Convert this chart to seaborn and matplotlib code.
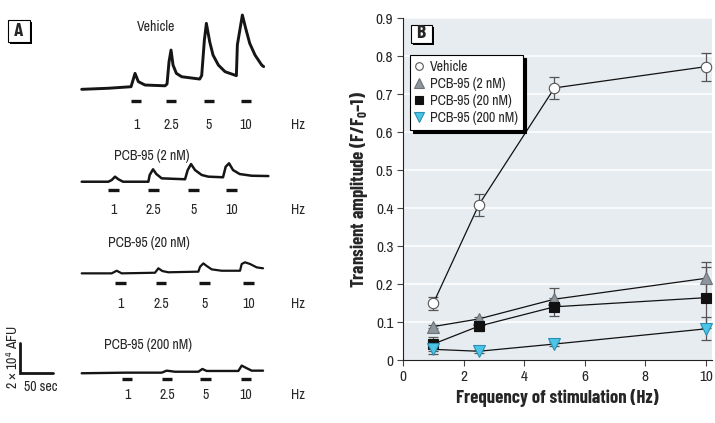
import numpy as np
import pandas as pd
import matplotlib.pyplot as plt
import seaborn as sns
from matplotlib import font_manager
from matplotlib.lines import Line2D
from matplotlib.patches import Rectangle

# ---- Panel B data ----
freq = [1, 2.5, 5, 10]
series_names = ['Vehicle', 'PCB-95 (2 nM)', 'PCB-95 (20 nM)', 'PCB-95 (200 nM)']
vehicle = [0.149, 0.408, 0.716, 0.772]
vehicle_err = [0.018, 0.030, 0.029, 0.037]
pcb_2 = [0.088, 0.108, 0.160, 0.215]
pcb_2_err = [0.004, 0.005, 0.030, 0.044]
pcb_20 = [0.042, 0.089, 0.140, 0.164]
pcb_20_err = [0.019, 0.012, 0.024, 0.080]
pcb_200 = [0.028, 0.023, 0.042, 0.082]
pcb_200_err = [0.013, 0.004, 0.005, 0.030]
y_ticks = [0, 0.1, 0.2, 0.3, 0.4, 0.5, 0.6, 0.7, 0.8, 0.9]
y_labels = ['0', '0.1', '0.2', '0.3', '0.4', '0.5', '0.6', '0.7', '0.8', '0.9']
x_ticks = [0, 2, 4, 6, 8, 10]

# ---- Panel A traces (time in s, amplitude in 1e4 AFU above baseline) ----
veh_t = [0, 40, 74, 77, 80, 85, 95, 125, 128, 131, 134, 137, 142, 150, 177, 180, 184, 187,
         192, 197, 205, 215, 232, 233.5, 241, 246, 252, 260, 270, 273]
veh_a = [0.0, 0.07, 0.17, 0.6, 1.04, 0.50, 0.28, 0.23, 0.35, 1.8, 2.56, 1.58, 1.04, 0.82, 0.67,
         0.9, 3.2, 4.30, 3.10, 2.23, 1.58, 1.15, 0.89, 2.9, 4.84, 3.97, 3.0, 2.23, 1.58, 1.48]
nm2_t = [0, 40, 45, 50, 55, 62, 100, 102, 107, 112, 120, 155, 159, 164, 170, 180, 190, 212,
         216, 221, 227, 237, 255, 280]
nm2_a = [0, 0, 0.11, 0.33, 0.16, 0.0, 0.0, 0.44, 0.81, 0.50, 0.22, 0.16, 0.76, 1.15, 0.76,
         0.44, 0.33, 0.29, 0.98, 1.20, 0.76, 0.50, 0.39, 0.37]
nm20_t = [0, 45, 52.5, 60, 110, 115, 121, 130, 175, 177.5, 182.5, 187.5, 195, 210, 237.5,
          240, 245, 252.5, 262.5, 272]
nm20_a = [0, 0, 0.17, 0, 0.04, 0.33, 0.15, 0.07, 0.11, 0.43, 0.65, 0.48, 0.26, 0.17, 0.17,
          0.61, 0.72, 0.61, 0.39, 0.33]
nm200_t = [0, 65, 120, 127.5, 140, 175, 181, 187.5, 235, 240, 247.5, 255, 272]
nm200_a = [0, 0.04, 0.04, 0.17, 0.1, 0.1, 0.28, 0.15, 0.15, 0.5, 0.33, 0.17, 0.17]
stim_hz = ['1', '2.5', '5', '10']
veh_stim = [73.5, 126, 183, 238.5]
nm2_stim = [40, 100, 160, 216.5]
nm20_stim = [50, 111, 176, 242.5]
nm200_stim = [60, 120, 178, 238.5]

names = {f.name for f in font_manager.fontManager.ttflist}
fam = 'Archivo Narrow' if 'Archivo Narrow' in names else 'DejaVu Sans'
bold_fam = 'Barlow Condensed' if 'Barlow Condensed' in names else 'DejaVu Sans'
sns.set_style('ticks')
plt.rcParams['font.family'] = [fam, 'DejaVu Sans']
plt.rcParams['mathtext.fontset'] = 'custom'
plt.rcParams['mathtext.rm'] = fam
plt.rcParams['mathtext.bf'] = bold_fam + ':bold'

fig = plt.figure(figsize=(7.15, 4.23), dpi=100)
W, H = 715, 423


def label_box(x0, y0, w, h, letter):
    # letter box with drop shadow, pixel coords from top-left
    fig.patches.append(Rectangle(((x0 + 2.5) / W, 1 - (y0 + h + 2.5) / H), w / W, h / H,
                                 transform=fig.transFigure, facecolor='black', edgecolor='none'))
    fig.patches.append(Rectangle((x0 / W, 1 - (y0 + h) / H), w / W, h / H,
                                 transform=fig.transFigure, facecolor='white',
                                 edgecolor='black', lw=0.8))
    fig.text((x0 + w / 2) / W, 1 - (y0 + h / 2) / H, letter, ha='center', va='center',
             fontsize=14, fontweight='bold', family=[bold_fam, 'DejaVu Sans'])


# ---------------- Panel A ----------------
axA = fig.add_axes([0, 0, 360 / W, 1])
axA.axis('off')
axA.set_xlim(-122.55, 417.45)
axA.set_ylim(0, 27.56)

rows = [
    ('Vehicle', veh_t, veh_a, veh_stim, 21.74, 2.1, 111, 25.82, 0.75, 1.55),
    ('PCB-95 (2 nM)', nm2_t, nm2_a, nm2_stim, 15.72, 1.8, 105, 17.39, 0.54, 1.3),
    ('PCB-95 (20 nM)', nm20_t, nm20_a, nm20_stim, 9.75, 1.6, 101, 11.71, 0.61, 1.41),
    ('PCB-95 (200 nM)', nm200_t, nm200_a, nm200_stim, 3.24, 1.7, 100, 5.08, 0.35, 1.04),
]
for name, t, a, stim, base, lw, tx, ty, bar_dy, lab_dy in rows:
    sns.lineplot(x=np.array(t), y=np.array(a) + base, ax=axA, color='#151515', lw=lw,
                 estimator=None, sort=False)
    for s, lab in zip(stim, stim_hz):
        axA.hlines(base - bar_dy, s, s + 16, color='#151515', lw=2.4)
        axA.text(s + 8, base - bar_dy - lab_dy, lab, ha='center', va='center', fontsize=10)
    axA.text(324, base - bar_dy - lab_dy, 'Hz', ha='center', va='center', fontsize=10)
    axA.text(tx, ty, name, ha='center', va='center', fontsize=10)

# scale bar
axA.plot([-92.5, -92.5, -42.5], [5.24, 3.24, 3.24], color='#151515', lw=2.0,
         solid_joinstyle='miter')
axA.text(-104, 4.3, '2 × 10$^4$ AFU', rotation=90, ha='center', va='center', fontsize=10)
axA.text(-62, 2.36, '50 sec', ha='center', va='center', fontsize=10)

label_box(7.5, 20, 22, 22, 'A')

# ---------------- Panel B ----------------
axB = fig.add_axes([403 / W, 63 / H, 309 / W, 342 / H])
axB.set_facecolor('#e7ecf1')
axB.set_xlim(0, 10.2)
axB.set_ylim(0, 0.9)
axB.set_yticks(y_ticks)
axB.set_yticklabels(y_labels)
axB.set_xticks(x_ticks)
for yv in y_ticks[1:]:
    axB.axhline(yv, color='white', lw=1.1, zorder=0.5)

styles = [
    (vehicle, vehicle_err, 'o', 'white', '#555555', 7.5),
    (pcb_2, pcb_2_err, '^', '#8d969c', '#6b7378', 9),
    (pcb_20, pcb_20_err, 's', '#111111', '#111111', 7.5),
    (pcb_200, pcb_200_err, 'v', '#4cc4e6', '#2a8fb0', 9),
]
handles = []
for (vals, err, mk, fc, ec, ms), name in zip(styles, series_names):
    axB.errorbar(freq, vals, yerr=err, fmt='none', ecolor='#555555', elinewidth=0.9,
                 capsize=3.5, capthick=0.9, zorder=2)
    sns.lineplot(x=freq, y=vals, ax=axB, color='#111111', lw=0.9, marker=mk,
                 markerfacecolor=fc, markeredgecolor=ec, markersize=ms, markeredgewidth=0.8,
                 estimator=None, zorder=3)
    handles.append(Line2D([], [], ls='none', marker=mk, markerfacecolor=fc,
                          markeredgecolor=ec, markersize=ms - 2, markeredgewidth=0.8,
                          label=name))

for side in ['top', 'right']:
    axB.spines[side].set_visible(False)
axB.spines['left'].set_color('#222222')
axB.spines['bottom'].set_color('#222222')
axB.tick_params(axis='both', direction='out', length=4, width=0.8, labelsize=11,
                color='#444444', pad=3)
axB.set_xlabel('Frequency of stimulation (Hz)', fontsize=13.5, fontweight='bold',
               family=[bold_fam, 'DejaVu Sans'], labelpad=4)
axB.set_ylabel(r'Transient amplitude (F/F$_{\mathbf{0}}$–1)', fontsize=13.5,
               fontweight='bold', family=[bold_fam, 'DejaVu Sans'], labelpad=4)

leg = axB.legend(handles=handles, loc='upper left', bbox_to_anchor=(0.022, 0.892),
                 borderaxespad=0, frameon=True, fancybox=False, edgecolor='black',
                 framealpha=1, fontsize=10, handlelength=0.6, handletextpad=0.5,
                 labelspacing=0.22, borderpad=0.35,
                 shadow={'color': 'black', 'alpha': 1})
leg.get_frame().set_linewidth(0.8)

label_box(410.5, 25, 21, 18, 'B')

fig.savefig('out.png', dpi=100)
